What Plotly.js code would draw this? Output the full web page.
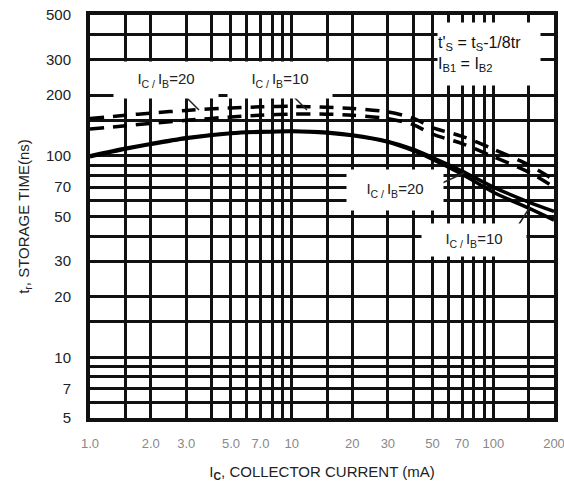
<!DOCTYPE html>
<html>
<head>
<meta charset="utf-8">
<script src="https://cdn.plot.ly/plotly-3.0.1.min.js"></script>
<style>html,body{margin:0;padding:0;background:#fff;}#chart{width:564px;height:490px;}</style>
</head>
<body>
<div id="chart"></div>
<script>
// Collector current (mA)
const currents = [1, 1.5, 2, 3, 5, 7, 10, 15, 20, 30, 40, 50, 70, 100, 150, 200];
// Storage time (ns)
const solidRatio20 = [100, 109, 115, 123, 130, 132, 133, 131, 127, 118, 108, 98, 84, 70, 59, 53];
const solidRatio10 = [99, 108, 114, 122, 129, 131, 132, 130, 126, 117, 106, 96, 81, 66, 55, 48];
const dashedRatio10 = [153, 159, 163, 168, 173, 175, 176, 174, 172, 165, 154, 138, 125, 108, 90, 76];
const dashedRatio20 = [136, 141, 145, 150, 156, 159, 161, 161, 159, 153, 143, 128, 115, 99, 83, 70];

// Grid / tick values
const xGridVals = [1, 1.5, 2, 3, 4, 5, 6, 7, 8, 9, 10, 15, 20, 30, 40, 50, 60, 70, 80, 90, 100, 150, 200];
const xTickLabels = {1: "1.0", 2: "2.0", 3: "3.0", 5: "5.0", 7: "7.0", 10: "10", 20: "20", 30: "30", 50: "50", 70: "70", 100: "100", 200: "200"};
const yGridVals = [5, 6, 7, 8, 9, 10, 15, 20, 30, 40, 50, 60, 70, 80, 90, 100, 150, 200, 300, 400, 500];
const yTickLabels = {5: "5", 7: "7", 10: "10", 20: "20", 30: "30", 50: "50", 70: "70", 100: "100", 200: "200", 300: "300", 500: "500"};

const FONT = "Liberation Sans, Arial, sans-serif";

function line(y, dashed, name) {
  return {
    x: currents, y: y, type: "scatter", mode: "lines", name: name,
    line: {color: "#000", width: 3.5, dash: dashed ? "14px,9px" : "solid", shape: "spline", smoothing: 0.8},
    hoverinfo: "skip", showlegend: false
  };
}

const traces = [
  line(solidRatio20, false, "IC/IB=20"),
  line(solidRatio10, false, "IC/IB=10"),
  line(dashedRatio10, true, "IC/IB=10 (ts)"),
  line(dashedRatio20, true, "IC/IB=20 (ts)")
];

const lbl = (n) => "I<sub>C / </sub>I<sub>B</sub>=" + n;
const px = (x) => (x - 90) / 464;
const py = (y) => (418 - y) / 403;

function box(cx, cy, w, h, text, extra) {
  return Object.assign({
    xref: "paper", yref: "paper", x: px(cx), y: py(cy), xanchor: "center", yanchor: "middle",
    text: text, bgcolor: "#fff", width: w, height: h, borderpad: 0,
    font: {size: 15, color: "#222", family: FONT}, showarrow: false
  }, extra || {});
}

const layout = {
  width: 564, height: 490,
  margin: {l: 90, r: 10, t: 15, b: 72},
  paper_bgcolor: "#fff", plot_bgcolor: "#fff",
  font: {family: FONT, color: "#111", size: 15},
  xaxis: {
    type: "log", range: [0, Math.log10(200)],
    tickmode: "array", tickvals: xGridVals,
    ticktext: xGridVals.map(v => xTickLabels[v] || ""),
    tickfont: {size: 13, color: "#888", family: FONT},
    ticks: "outside", ticklen: 10, tickcolor: "rgba(0,0,0,0)",
    ticklabeloverflow: "allow",
    showgrid: true, gridcolor: "#111", gridwidth: 3,
    showline: true, mirror: true, linecolor: "#111", linewidth: 4,
    zeroline: false, automargin: false,
    title: {text: "I<sub><b>C</b></sub>, COLLECTOR CURRENT (mA)", font: {size: 15, color: "#222", family: FONT}, standoff: 18}
  },
  yaxis: {
    type: "log", range: [Math.log10(5), Math.log10(500)],
    tickmode: "array", tickvals: yGridVals,
    ticktext: yGridVals.map(v => yTickLabels[v] || ""),
    tickfont: {size: 15, color: "#222", family: FONT},
    ticks: "outside", ticklen: 12, tickcolor: "rgba(0,0,0,0)",
    showgrid: true, gridcolor: "#111", gridwidth: 3,
    showline: true, mirror: true, linecolor: "#111", linewidth: 4,
    zeroline: false, automargin: false,
    title: {text: "t<sub>r</sub>, STORAGE TIME(ns)", font: {size: 15, color: "#222", family: FONT}, standoff: 14}
  },
  annotations: [
    box(166, 80, 104, 36, lbl(20)),
    box(280, 80, 104, 36, lbl(10)),
    box(395, 190, 96, 40, lbl(20)),
    box(474, 240, 104, 32, lbl(10)),
    box(489, 54, 102, 62, "t'<sub>S</sub> = t<sub>S</sub>-1/8tr<br>I<sub>B1</sub> = I<sub>B2</sub>", {align: "left", font: {size: 16, color: "#111", family: FONT}})
  ],
  shapes: [
    {type: "line", xref: "paper", yref: "paper", x0: px(186), y0: py(97), x1: px(199), y1: py(110), line: {color: "#222", width: 1.5}},
    {type: "line", xref: "paper", yref: "paper", x0: px(294), y0: py(97), x1: px(307), y1: py(110), line: {color: "#222", width: 1.5}},
    {type: "line", xref: "paper", yref: "paper", x0: px(440), y0: py(184), x1: px(464), y1: py(173), line: {color: "#222", width: 1.5}},
    {type: "line", xref: "paper", yref: "paper", x0: px(514), y0: py(232), x1: px(530), y1: py(207), line: {color: "#222", width: 1.5}}
  ]
};

Plotly.newPlot("chart", traces, layout, {staticPlot: true, displayModeBar: false});
</script>
</body>
</html>
